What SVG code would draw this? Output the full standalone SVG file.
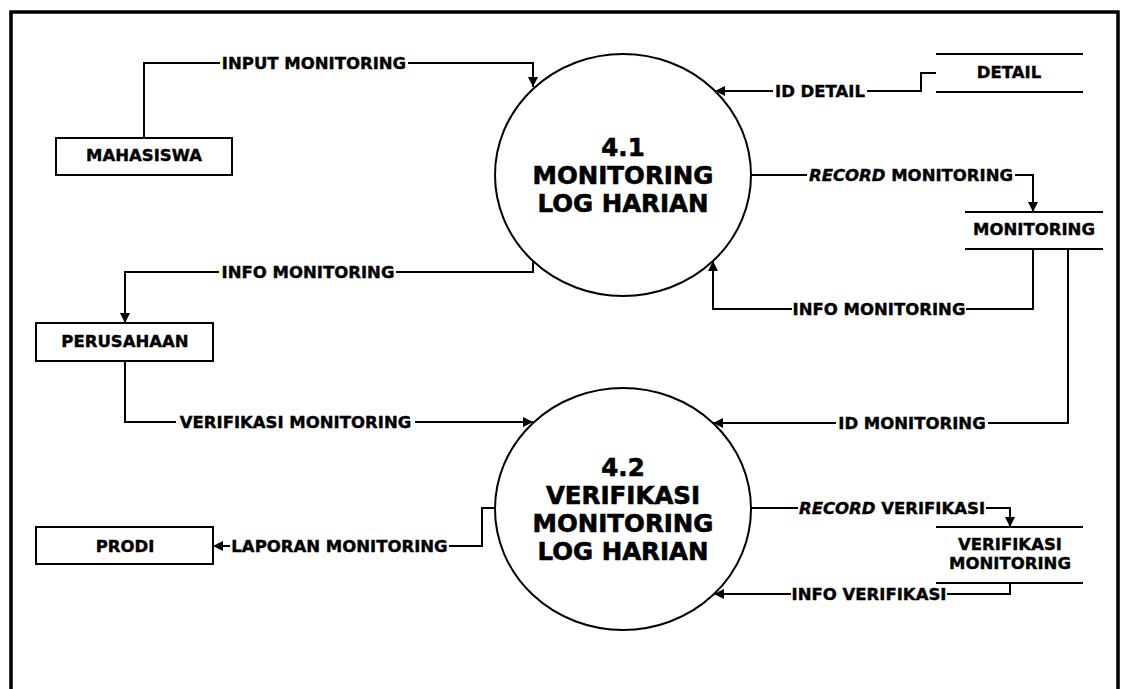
<svg xmlns="http://www.w3.org/2000/svg" width="1121" height="689" viewBox="0 0 1121 689">
<style>
  .bg{fill:#ffffff}
  .frame{fill:none;stroke:#000;stroke-width:3.5}
  .shape{fill:#fff;stroke:#000;stroke-width:2}
  .store{fill:none;stroke:#000;stroke-width:2}
  .conn{fill:none;stroke:#000;stroke-width:2;marker-end:url(#arr)}
  .lbl{font-family:"DejaVu Sans",sans-serif;font-weight:bold;font-size:16.5px;fill:#000;stroke:#000;stroke-width:0.4;text-anchor:middle}
  .ptxt{font-family:"DejaVu Sans",sans-serif;font-weight:bold;font-size:24.5px;fill:#000;stroke:#000;stroke-width:0.6;text-anchor:middle}
  .it{font-style:italic}
</style>
<defs>
  <marker id="arr" markerUnits="userSpaceOnUse" markerWidth="12" markerHeight="12" refX="10" refY="5" orient="auto">
    <path d="M0,0 L10,5 L0,10 Z" fill="#000"/>
  </marker>
</defs>
<rect class="bg" x="0" y="0" width="1121" height="689"/>
<path class="frame" d="M11,700 V12 H1118 V700"/>

<g id="connectors">
  <path class="conn" d="M144,138 V63 H220 M408,63 H533 V87"/>
  <path class="conn" d="M936,73 H921 V91 H867 M773,91 H715"/>
  <path class="conn" d="M751,175 H807 M1015,175 H1033 V212"/>
  <path class="conn" d="M1033,249 V309 H966 M792,309 H713 V261"/>
  <path class="conn" d="M533,260 V272 H396 M219,272 H125 V323"/>
  <path class="conn" d="M125,361 V422 H176 M415,422 H533"/>
  <path class="conn" d="M1068,249 V423 H988 M836,423 H713"/>
  <path class="conn" d="M495,508 H482 V546 H449 M230,546 H213"/>
  <path class="conn" d="M751,508 H798 M986,508 H1010 V527"/>
  <path class="conn" d="M1010,583 V594 H947 M791,594 H714"/>
  <text class="lbl" x="314" y="69">INPUT MONITORING</text>
  <text class="lbl" x="820" y="97">ID DETAIL</text>
  <text class="lbl" x="911" y="181"><tspan class="it">RECORD</tspan> MONITORING</text>
  <text class="lbl" x="879" y="315">INFO MONITORING</text>
  <text class="lbl" x="308" y="278">INFO MONITORING</text>
  <text class="lbl" x="295.5" y="428">VERIFIKASI MONITORING</text>
  <text class="lbl" x="912" y="429">ID MONITORING</text>
  <text class="lbl" x="339.5" y="552">LAPORAN MONITORING</text>
  <text class="lbl" x="892" y="514"><tspan class="it">RECORD</tspan> VERIFIKASI</text>
  <text class="lbl" x="869" y="600">INFO VERIFIKASI</text>
</g>

<g id="mahasiswa">
  <rect class="shape" x="56" y="138" width="176" height="37"/>
  <text class="lbl" x="144" y="161">MAHASISWA</text>
</g>
<g id="perusahaan">
  <rect class="shape" x="36" y="323" width="177" height="38"/>
  <text class="lbl" x="125" y="347">PERUSAHAAN</text>
</g>
<g id="prodi">
  <rect class="shape" x="36" y="527" width="177" height="37"/>
  <text class="lbl" x="125" y="552">PRODI</text>
</g>
<g id="p41">
  <ellipse class="shape" cx="623" cy="175" rx="128" ry="121"/>
  <text class="ptxt" x="623" y="156">4.1</text>
  <text class="ptxt" x="623" y="184">MONITORING</text>
  <text class="ptxt" x="623" y="212">LOG HARIAN</text>
</g>
<g id="p42">
  <ellipse class="shape" cx="623" cy="509" rx="128" ry="121"/>
  <text class="ptxt" x="623" y="476">4.2</text>
  <text class="ptxt" x="623" y="504">VERIFIKASI</text>
  <text class="ptxt" x="623" y="532">MONITORING</text>
  <text class="ptxt" x="623" y="560">LOG HARIAN</text>
</g>
<g id="detail">
  <path class="store" d="M936,54 H1083 M936,92 H1083"/>
  <text class="lbl" x="1009" y="78">DETAIL</text>
</g>
<g id="monitoring">
  <path class="store" d="M965,212 H1103 M965,249 H1103"/>
  <text class="lbl" x="1034" y="235">MONITORING</text>
</g>
<g id="verifikasi-monitoring">
  <path class="store" d="M936,527 H1083 M936,583 H1083"/>
  <text class="lbl" x="1010" y="550">VERIFIKASI</text>
  <text class="lbl" x="1010" y="569">MONITORING</text>
</g>
</svg>
